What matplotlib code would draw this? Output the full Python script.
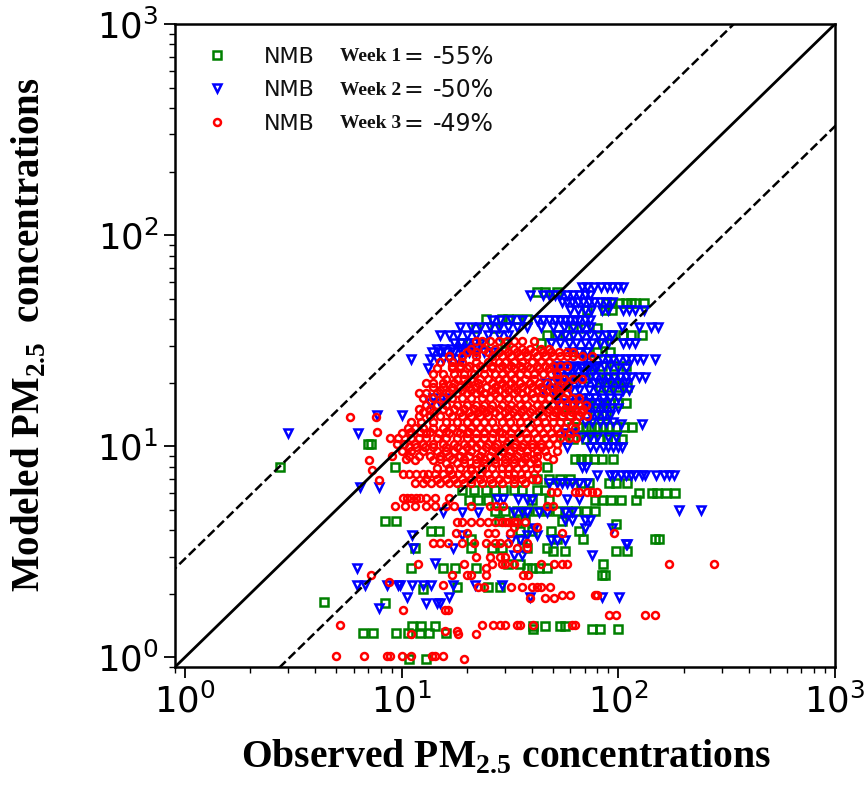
import numpy as np
import matplotlib
matplotlib.use("Agg")
import matplotlib.pyplot as plt

# values, the model output sits on discrete levels so each
# level has a list of observed values
week1_levels = [54, 47.6, 44, 40, 36.5, 33.7, 30.8, 27.8, 24, 21, 19, 16, 14, 12.3, 10.8, 10.2, 8.7, 8, 8, 7, 6.7, 6.2,
                6, 5.55, 4.95, 4.4, 4.3, 3.95, 3.65, 3.3, 3.2, 2.76, 2.65, 2.45, 2.15, 2.1, 1.82, 1.8, 1.4, 1.36, 1.3, 0.98]
week1_x = [
    [42, 46, 52],
    [101, 108, 114, 120, 132, 88, 94],
    [72, 87, 94],
    [24.5, 29, 31, 34, 38],
    [62, 70, 80, 22, 27],
    [94, 105, 115, 128, 47, 52, 58],
    [30, 44, 85, 19, 24],
    [72, 66, 80, 92],
    [75, 84, 96, 108],
    [88, 96, 60, 70],
    [82, 90, 100, 110],
    [80, 86, 92, 100, 108, 66, 72],
    [78, 84, 88, 60, 55],
    [61, 66, 71, 75, 80, 85, 91, 98, 106, 116],
    [71, 76, 82, 89, 97, 104, 56, 62],
    [7, 7.2],
    [63, 67, 72, 77, 84, 95],
    [9.3, 47],
    [2.75],
    [42, 48, 54, 60],
    [91, 98, 110, 67, 73],
    [19, 21.5, 24.5, 27, 29.5, 33, 36, 42, 46],
    [124, 143, 151, 166, 182],
    [20.5, 22.5, 25, 78, 84, 93, 103, 121, 48, 40],
    [27, 30, 34, 38, 42, 47, 52, 58, 64, 71, 78],
    [8.4, 9.4, 55, 28, 33, 37],
    [98],
    [13.7, 14.8, 35, 40, 49, 66],
    [69, 147, 154, 36, 52, 21],
    [11.5, 21, 26, 29, 38, 47],
    [50, 57, 98, 110],
    [85, 31, 35],
    [11, 15.5, 17.6, 22, 38, 40, 43, 47],
    [84, 87],
    [18, 25, 28.3],
    [12.6],
    [4.4],
    [8.4],
    [11.2, 12.3, 14.2, 40.6, 46, 54, 57],
    [40.6, 76, 82, 100],
    [6.6, 7.4, 9.4, 10.7, 12.1, 13.4, 16],
    [10.8, 12.9],
]

week2_levels = [56.5, 52, 48, 44, 39.6, 36.7, 33.7, 30.8, 29, 27.8, 25.8, 24, 23.4, 21.2, 20, 18.4, 16.9, 16, 15.2, 14,
                13, 12.8, 11.5, 11, 9.9, 8, 7.3, 6.7, 6.4, 5.65, 5, 4.9, 4.45, 4.1, 3.8, 3.6, 3.45, 3.3, 3.05, 2.8, 2.65,
                2.2, 1.93, 1.8, 1.72]
week2_x = [
    [68, 72, 77, 83, 89, 94, 100, 105],
    [39, 45, 48, 51, 54, 58, 62, 66, 70, 74],
    [55, 58, 61, 65, 69, 73, 77, 82, 88, 94],
    [70, 84, 105, 112, 120, 132, 60, 65, 75, 90],
    [42, 45, 48, 51, 54, 57, 60, 63, 66, 70, 74, 36, 32, 28.5, 26],
    [18.5, 21, 23, 25.5, 28, 31, 34, 38, 44, 50, 56, 104, 125, 141, 152, 62, 68, 74],
    [15, 16.5, 18, 20, 22, 25, 28, 31, 52, 57, 62, 68, 74, 81, 88, 94],
    [17.5, 18.8, 20, 21.5, 23, 49, 54, 59, 64, 70, 76, 105, 112, 120, 82, 90],
    [14.5, 15.5, 17, 18.5, 20, 22],
    [13.8, 15, 16, 17.5, 19, 20.5, 22, 24, 26, 60, 66, 72],
    [11, 13.5, 14.5, 15.5, 16.5, 18, 19, 84, 90, 95, 101, 108, 115, 122, 130, 147, 70, 76],
    [52, 57, 62, 68, 74, 80, 86, 92],
    [13.2, 52, 56, 60, 63, 67, 72, 78, 100, 108],
    [52, 56, 60, 65, 69, 74, 78, 84, 90, 96, 102, 108, 115, 124, 133],
    [46, 50, 55, 60, 65, 71, 77, 84, 92, 100, 108],
    [45, 50, 55, 60, 66, 73, 80, 87, 95, 105, 112],
    [14, 16, 63, 68, 73, 78, 85, 92, 100],
    [13.5, 15, 52, 58, 64, 70, 76, 84],
    [73, 78, 83, 88, 94, 100],
    [7.7, 10, 75, 80, 86, 92],
    [70, 76, 82, 88, 95],
    [103, 128],
    [6.3, 3, 56, 62],
    [68, 74, 80, 90, 98],
    [74, 79, 85, 90, 95, 100, 104, 58],
    [68, 71],
    [80, 92, 96, 103, 108, 114, 120, 128, 133, 150, 163, 172, 180],
    [48, 52, 55, 58, 61, 66, 72],
    [6.4, 7.9],
    [27.5, 29.5, 34.5, 38, 40, 58, 66],
    [190, 240],
    [15.5, 19, 22.5, 33, 36, 38, 43, 47, 57, 61],
    [57, 61, 70, 74],
    [41, 70, 94],
    [11.2, 19, 38, 42],
    [49, 52, 57, 32, 35],
    [110, 108],
    [11.3, 17.2],
    [76, 33, 36],
    [14.2],
    [6.2],
    [6.2, 6.8, 8.6, 9.6, 9.8, 11.2, 12.5, 13.7, 17.2, 21.7, 29],
    [10.6, 16.6, 39, 84, 101],
    [12.9, 14.5, 15],
    [7.9],
]

week3_levels = [31.5, 29, 28, 26.7, 25, 24, 23.4, 22, 20.8, 20, 19, 18.5, 17.8, 17, 15.7, 15, 14.5, 13.9, 13.7, 13, 12.2,
                11.7, 11.5, 10.9, 10.3, 9.9, 9.5, 9, 8.7, 8.6, 8.3, 7.9, 7.7, 7.4, 7, 6.9, 6.7, 6.1, 5.7, 5.2, 4.37, 4.13,
                3.9, 3.47, 3.28, 3, 2.76, 2.64, 2.45, 2.27, 2.2, 2.15, 1.97, 1.9, 1.67, 1.58, 1.43, 1.34, 1.29, 1.01, 0.98]
week3_x = [
    [22, 23.5, 25.5, 28, 30.5, 33, 36, 41],
    [21, 24, 27, 30, 33, 36, 39, 44, 48],
    [20, 22, 25, 28, 31, 34, 37, 41, 45, 49, 53, 58, 62],
    [16.5, 19, 22, 26, 29, 32, 35, 38, 42, 46, 50, 54, 58, 62, 68, 76],
    [15, 17, 19, 22, 25, 28, 30, 33, 36, 40, 44, 48],
    [17, 18.5, 20.5, 23, 26, 29, 32, 35, 38, 42, 46, 50, 54, 58],
    [14.5, 17, 18.5, 20, 22, 24, 26, 28, 31, 33, 36, 39, 43, 48],
    [14, 15.5, 17.5, 19.5, 21.5, 24, 27, 29, 32, 35, 38, 41, 45, 49, 52],
    [16, 18, 19.5, 21, 23, 25, 28, 30, 33, 37, 41, 52, 56, 62, 68],
    [13, 14, 15.5, 17.5, 20, 22.5, 26, 29, 32, 35, 39, 43, 47],
    [14, 15.5, 17, 18.5, 20.5, 22, 24.5, 27, 30, 33, 36, 40, 44, 49, 53, 58],
    [15, 17, 19, 21, 23, 26, 28, 31, 34, 38, 42, 47, 52],
    [12, 13, 14.5, 16.5, 18, 20, 22, 24, 27, 30, 33, 36, 40, 45, 50, 54, 58],
    [12.5, 14, 15.5, 17, 19, 21, 23.5, 25.5, 28, 31, 34.5, 37, 41, 44, 48, 52, 56, 61, 66],
    [13, 14.5, 16, 18, 20, 22, 24, 26, 29, 32, 35, 38, 42, 46, 50, 54, 58, 62, 66, 71],
    [12, 13.5, 15.5, 17.5, 19.5, 21.5, 23.5, 25.5, 28, 31, 33.5, 36.5, 40, 44, 48, 52, 57, 63, 69],
    [12.5, 14, 16.5, 18.5, 20.5, 22.5, 24.5, 27, 30, 32.5, 35.5, 39, 43, 47, 51, 56, 61, 67],
    [12, 13.5, 15, 17, 19, 21, 23, 25, 28, 31, 34, 37, 41, 45, 50, 55, 60, 66, 72],
    [5.8, 7.6],
    [11, 12.3, 14, 16, 18, 20, 22, 24, 26, 29, 31.5, 35, 38, 42, 46, 50, 54, 58, 64],
    [10.7, 11.5, 12.5, 14, 15.5, 17, 19, 21, 23, 25, 27, 30, 33, 36, 39, 43, 47, 52, 57, 63],
    [7.7, 11, 12.2, 13.5, 16, 18, 20.5, 24, 28],
    [10, 10.8, 13, 14.8, 16.5, 18.5, 20, 22, 24, 26.5, 29, 32, 34.5, 37.5, 41, 45, 49, 54, 60],
    [8.8, 9.6, 11, 12, 13, 14.5, 16, 18, 20, 22, 24, 26, 29, 32, 35, 38, 42, 46, 50, 54, 59, 64],
    [9.5, 10.3, 11.5, 12.5, 14, 15.5, 17.5, 19.5, 21, 23, 25, 27.5, 30.5, 33.5, 36.5, 40, 44, 48, 52],
    [10.8, 11.7, 12.8, 14, 16, 18, 20, 22, 24.5, 27, 30, 33, 36, 40, 44],
    [10, 11, 12.5, 14.5, 16, 17.5, 19, 21, 23.5, 26, 29, 31.5, 35, 38, 42, 46, 52],
    [9, 10.8, 12, 13.5, 15, 16.5, 18.5, 20.5, 23, 25.5, 28, 31, 34, 38, 42, 47],
    [10.5, 15, 17, 19.5, 22, 24, 27, 30, 33, 37, 41, 50],
    [7.1, 11.5, 14],
    [16, 18, 19.5, 22, 24, 27, 30, 33, 36, 39, 42],
    [14.5, 16.5, 18.5, 21, 23.5, 26, 29, 31, 34, 37, 42],
    [7.3, 16.5, 21],
    [10.1, 10.8, 11.7, 12.5, 13.2, 14.3, 15.5, 17, 18.3, 20, 21.5, 23, 25, 27, 29, 31, 33, 35.5, 38, 41],
    [13, 14.5, 16, 17.5, 19, 21, 23, 25.5, 28, 30.5, 33, 36, 40, 42],
    [7.9],
    [11.5, 12.5, 13.6, 15, 16.5, 18, 19.5, 21, 23.5, 26, 29, 33, 37],
    [49, 52, 63, 66, 72, 76, 80],
    [10.1, 10.6, 11, 11.6, 12.2, 13, 14.2, 16.6],
    [9.3, 10.4, 11.5, 13, 14.2, 16, 17.5, 20.8, 25.5, 27.3, 29.5, 47, 50],
    [18, 19, 21, 23, 25, 27, 29, 30, 31, 33, 34, 37],
    [33, 42],
    [17.8, 20, 25, 27, 31.5, 55, 96],
    [14, 15, 16.4, 19, 21.5, 24.5, 27, 28.5, 31, 38],
    [34, 38],
    [22, 25.5, 28.3, 30],
    [11.9, 19.5, 26, 29, 30, 33, 44, 50.5, 55, 58, 172, 277],
    [24.5],
    [7.2, 17, 20, 21, 24.5, 36.5, 38.5],
    [8.7],
    [15.6],
    [22.5, 24, 32, 36, 40, 42, 44, 48.6],
    [55, 60, 78, 80],
    [39, 46, 50.7],
    [10.2, 15.8, 16.4],
    [91, 98, 133, 147],
    [5.2, 23.5, 26.5, 28.3, 30, 34, 35, 40.6, 61, 63],
    [15.8, 18],
    [11.1, 18.2, 22],
    [5, 6.7, 8.6, 8.8, 10, 11, 13.8, 14.3, 15.5],
    [19.5],
]

legend_weeks = ["Week 1", "Week 2", "Week 3"]
legend_nmb = ["-55%", "-50%", "-49%"]


def expand(levels, rows):
    xs = []
    ys = []
    for lev, row in zip(levels, rows):
        xs += row
        ys += [lev] * len(row)
    return np.array(xs), np.array(ys)


serif = "Liberation Serif"
plt.rcParams["mathtext.fontset"] = "custom"
plt.rcParams["mathtext.bf"] = "Liberation Serif:bold"
plt.rcParams["mathtext.rm"] = "Liberation Serif:bold"

fig = plt.figure(figsize=(8.67, 7.87), dpi=100)
ax = fig.add_axes([175 / 867, 1 - 667 / 787, 660 / 867, 643 / 787])

styles = [("s", "green"), ("v", "blue"), ("o", "red")]
sizes = [5.6, 5.2, 5]
for (lev, rows), (mk, col), ms in zip([(week1_levels, week1_x), (week2_levels, week2_x), (week3_levels, week3_x)], styles, sizes):
    x, y = expand(lev, rows)
    ax.plot(x, y, ls="none", marker=mk, ms=ms, mfc="none", mec=col, mew=1.8)

line = np.array([0.1, 10000])
ax.plot(line, line, color="k", lw=2)
ax.plot(line, line * 2.93, color="k", lw=1.8, ls="--")
ax.plot(line, line / 3.05, color="k", lw=1.8, ls="--")

ax.set_xscale("log")
ax.set_yscale("log")
ax.set_xlim(0.9, 1000)
ax.set_ylim(0.9, 1000)
ax.tick_params(which="major", labelsize=25.5, length=8, width=1.3, pad=4)
ax.tick_params(which="minor", length=4, width=1)
for s in ax.spines.values():
    s.set_linewidth(1.8)

ax.set_xlabel("Observed PM$_{\\mathbf{2.5}}$ concentrations", family=serif, weight="bold", fontsize=28.5)
ax.set_ylabel("Modeled PM$_{\\mathbf{2.5}}$  concentrations", family=serif, weight="bold", fontsize=28)
ax.xaxis.set_label_coords((506 - 175) / 660, (667 - 738) / 643)
ax.yaxis.set_label_coords((49 - 175) / 660, (667 - 335) / 643)

# legend put together by hand since it mixes two fonts
for i, ypos in enumerate([0.9487, 0.8973, 0.8445]):
    ax.plot(0.0635, ypos + 0.003, transform=ax.transAxes, ls="none", marker=styles[i][0], ms=sizes[i], mfc="none",
            mec=styles[i][1], mew=1.8, clip_on=False)
    ax.text(0.134, ypos, "NMB", transform=ax.transAxes, fontsize=16, va="center", color="#111111")
    ax.text(0.2495, ypos, legend_weeks[i], transform=ax.transAxes, family=serif, weight="bold", fontsize=14, va="center",
            color="#111111")
    ax.text(0.346, ypos, "=", transform=ax.transAxes, fontsize=17, va="center", color="#111111")
    ax.text(0.39, ypos, legend_nmb[i], transform=ax.transAxes, fontsize=17, va="center", color="#111111")

fig.savefig("out.png", dpi=100)
